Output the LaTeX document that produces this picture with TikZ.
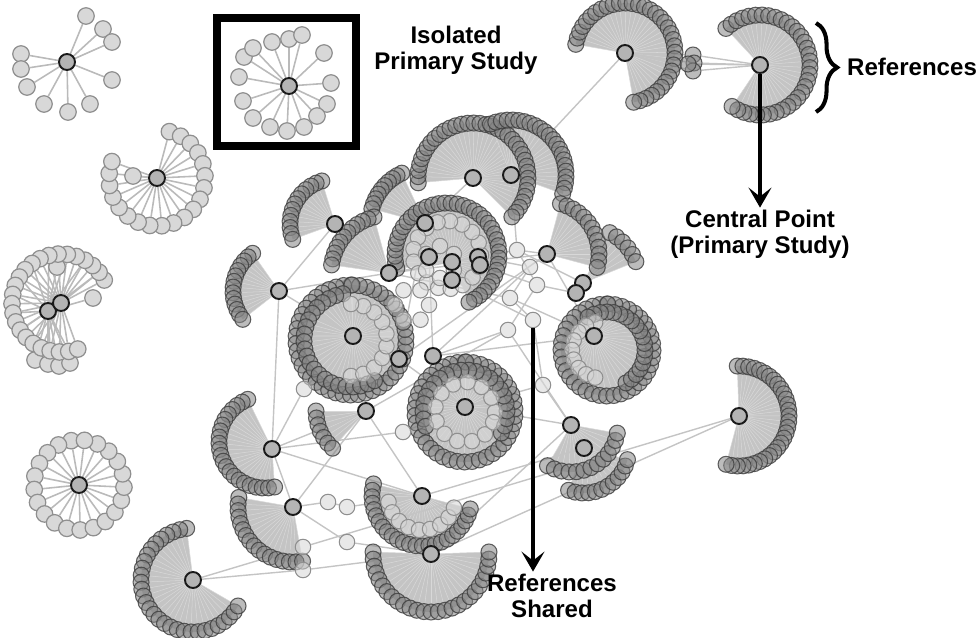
\documentclass[tikz,border=0pt]{standalone}
\usepackage{fontspec}
\setmainfont{Liberation Sans}
\usetikzlibrary{arrows.meta,positioning,calc,backgrounds,decorations.pathreplacing}
\pgfdeclarelayer{foreground}
\pgfsetlayers{background,main,foreground}
\definecolor{netInk}{HTML}{1a1a1a}
\definecolor{netRim}{HTML}{3c3c3c}
\definecolor{netDot}{HTML}{858585}
\definecolor{netHub}{HTML}{b4b4b4}
\definecolor{netPale}{HTML}{d8d8d8}
\definecolor{netEdge}{HTML}{8f8f8f}
\definecolor{netFan}{HTML}{c4c4c4}
\definecolor{netSpoke}{HTML}{bababa}
\definecolor{netLink}{HTML}{c4c4c4}
\tikzset{
  >={Stealth[length=4mm, width=4.6mm, inset=1.8mm]},
  hub/.style={circle, draw=netInk, line width=1.1pt, fill=netHub,
              minimum size=3.2mm, inner sep=0pt},
  lref/.style={circle, draw=netEdge, line width=0.7pt, fill=netPale,
              minimum size=3.3mm, inner sep=0pt},
  dref/.style={circle, draw=netRim, line width=0.6pt, fill=netDot,
              fill opacity=0.55, draw opacity=0.8, minimum size=3.2mm, inner sep=0pt},
  sref/.style={circle, draw=netEdge, line width=0.6pt, fill=netPale,
              fill opacity=0.6, minimum size=3.1mm, inner sep=0pt},
  fan/.style={fill=netFan},
  spoke/.style={draw=netSpoke, line width=0.9pt},
  fanline/.style={draw=netPale, line width=0.3pt},
  link/.style={draw=netLink, line width=0.8pt},
  isobox/.style={draw=black, line width=4.5pt, minimum width=2.78cm, minimum height=2.56cm},
  lbl/.style={font=\fontsize{13.7}{15}\selectfont\bfseries, inner sep=1pt, align=center},
  callout/.style={->, draw=black, line width=2.3pt},
  bracket/.style={decorate, decoration={brace, amplitude=12pt}, draw=black, line width=2.3pt},
}
% sparse study: hub, prefix, radius, from, to, steps
\newcommand{\starof}[6]{%
  \foreach \k in {0,...,#6}{
    \pgfmathsetmacro{\ang}{#4+(#5-#4)/#6*\k}
    \node[lref] (#2-\k) at ($(#1)+(\ang:#3)$) {};}
  \begin{scope}[on background layer]
    \foreach \k in {0,...,#6}{\draw[spoke] (#1) -- (#2-\k);}
  \end{scope}}
% dense study: hub, prefix, centre, radius, from, to, steps
\newcommand{\fanarc}[7]{%
  \foreach \k in {0,...,#7}{
    \pgfmathsetmacro{\ang}{#5+(#6-#5)/#7*\k}
    \node[dref] (#2-\k) at ($#3+(\ang:#4)$) {};}
  \begin{scope}[on background layer]
    \fill[fan] (#1.center) -- ($#3+(#5:#4)$) arc[start angle=#5, end angle=#6, radius=#4] -- cycle;
    \foreach \k in {0,...,#7}{\draw[fanline] (#1) -- (#2-\k);}
  \end{scope}}
% extra ring of references: style, prefix, centre, radius, from, to, steps
\newcommand{\ringof}[7][sref]{%
  \foreach \k in {0,...,#7}{
    \pgfmathsetmacro{\ang}{#5+(#6-#5)/#7*\k}
    \node[#1] (#2-\k) at ($#3+(\ang:#4)$) {};}}

\begin{document}
\begin{tikzpicture}[x=0.02cm,y=0.02cm]
  \useasboundingbox (0,0) rectangle (979,-638);
  % primary studies
  \begin{pgfonlayer}{foreground}
  \foreach \n/\x/\y in {p1/67/62, p2/289/86, p3/157/178, p4/48/311, p4b/61/303, p5/79/485,
      d1/625/53, d2/760/65, d3a/473/178, d3b/511/175, d4/452/262, d4a/425/223,
      d4b/429/257, d4c/452/280, d4d/478/257, d4e/480/265, d5/335/224, d6/389/273,
      d8/279/291, d9/353/336, d9b/399/359, d9c/433/356, d10/594/336, d11/465/407,
      d12/272/449, d13/366/411, d14/293/507, d15/193/580, d16/422/496, d17/431/554,
      d18a/571/425, d18b/584/448, d19/739/416, d20/547/254, d21/583/283, d21b/576/293}{
    \node[hub] (\n) at (\x,-\y) {};}
  \end{pgfonlayer}

  % isolated studies
  \foreach \x/\y [count=\k] in {86/16,103/29,112/42,21/54,21/69,27/87,44/104,68/112,90/104,112/80}{
    \node[lref] (p1-\k) at (\x,-\y) {};}
  \foreach \x/\y [count=\k] in {244/57,253/48,272/42,289/39,302/35,324/53,239/77,331/83,
      243/101,327/104,253/118,317/116,270/127,287/131,304/127}{
    \node[lref] (p2-\k) at (\x,-\y) {};}
  \foreach \x/\y [count=\k] in {93/298,57/267,35/360,48/364,59/366,70/363}{
    \node[lref] (p4x-\k) at (\x,-\y) {};}
  \node[lref] (p3x) at (133,-176) {};
  \begin{scope}[on background layer]
    \foreach \k in {1,...,10}{\draw[spoke] (p1) -- (p1-\k);}
    \foreach \k in {1,...,15}{\draw[spoke] (p2) -- (p2-\k);}
    \foreach \k in {1,...,6}{\draw[spoke] (p4) -- (p4x-\k);}
    \draw[spoke] (p3) -- (p3x);
  \end{scope}
  \node[isobox] (isofr) at (286.5,-82) {};
  \starof{p3}{p3r}{48}{75}{-200}{19}
  \starof{p4b}{p4r}{49}{28}{290}{24}
  \begin{scope}[on background layer]
    \foreach \k in {1,3,...,23}{\draw[spoke] (p4) -- (p4r-\k);}
  \end{scope}
  \starof{p5}{p5r}{45}{100}{443}{20}

  % studies sharing references
  \fanarc{d1}{d1r}{(625,-53)}{50}{170}{-80}{34}
  \fanarc{d2}{d2r}{(760,-65)}{50}{133}{-124}{34}
  \fanarc{d3a}{d3ar}{(473,-178)}{55}{185}{-45}{36}
  \fanarc{d3b}{d3br}{(511,-175)}{55}{112}{-20}{22}
  \fanarc{d4}{d4r}{(447,-255)}{52}{195}{-65}{38}
  \fanarc{d4a}{d7r}{(425,-223)}{55}{115}{165}{9}
  \fanarc{d5}{d5r}{(335,-224)}{45}{107}{200}{12}
  \fanarc{d6}{d6r}{(389,-273)}{58}{105}{172}{11}
  \fanarc{d8}{d8r}{(279,-291)}{46}{125}{218}{13}
  \fanarc{d9}{d9r}{(351,-340)}{55}{90}{449}{46}
  \ringof[dref]{d9s}{(351,-340)}{47}{100}{300}{22}
  \fanarc{d10}{d10r}{(607,-350)}{46}{90}{449}{40}
  \ringof[dref]{d10s}{(607,-350)}{38}{-60}{120}{18}
  \fanarc{d11}{d11r}{(465,-412)}{50}{90}{449}{42}
  \ringof[dref]{d11s}{(465,-412)}{42}{-30}{200}{22}
  \fanarc{d12}{d12r}{(265,-442)}{46}{112}{282}{22}
  \fanarc{d13}{d13r}{(366,-411)}{50}{180}{228}{6}
  \fanarc{d14}{d14r}{(293,-507)}{55}{170}{280}{16}
  \fanarc{d15}{d15r}{(193,-580)}{52}{97}{330}{30}
  \fanarc{d16}{d16r}{(422,-496)}{50}{166}{345}{24}
  \fanarc{d17}{d17r}{(431,-554)}{58}{178}{362}{26}
  \fanarc{d18a}{d18ar}{(571,-425)}{47}{240}{350}{12}
  \fanarc{d18b}{d18br}{(584,-448)}{45}{250}{345}{11}
  \fanarc{d19}{d19r}{(739,-416)}{50}{92}{-105}{30}
  \fanarc{d20}{d20r}{(547,-254)}{52}{75}{-15}{12}
  \fanarc{d21}{d21r}{(583,-283)}{57}{62}{22}{5}

  % shared references inside the rings
  \ringof{d4i}{(447,-255)}{34}{0}{340}{16}
  \ringof{d4j}{(440,-262)}{16}{30}{330}{5}
  \ringof{d9i}{(351,-340)}{36}{-90}{90}{9}
  \ringof{d10i}{(600,-350)}{28}{100}{260}{8}
  \ringof{d11i}{(465,-412)}{30}{0}{340}{12}
  \ringof{d16i}{(422,-496)}{34}{190}{340}{8}
  \ringof{wv}{(412,-305)}{17}{0}{300}{5}
  \foreach \n/\x/\y in {s1/517/250, s2/530/267, s3/537/285, s4/510/298, s5/533/320,
      s6/508/330, s7/543/385, s8/304/389, s9/328/502, s10/347/507, s11/347/542,
      s12/303/547, s13/303/570, s14/403/432}{
    \node[sref] (\n) at (\x,-\y) {};}
  \foreach \n/\x/\y in {k1/693/55, k2/694/63, k3/693/71, k4/688/64}{
    \node[dref] (\n) at (\x,-\y) {};}

  % links between studies and shared references
  \begin{scope}[on background layer]
    \foreach \a/\b in {d1/d3b, k1/d1, k2/d1, k3/d1, k1/d2, k2/d2, k3/d2, k4/d2,
        d8/d6, d8/d9, d5/d6, d5/d8, d6/s1, d6/s4, d6/d20, d4c/s5, d4d/s2, d4e/s3,
        d20/s1, d20/s2, d20/d10, s1/s3, s2/s4, s3/s6, s4/s5, s5/s7, s6/d18a, s7/d18a,
        s2/d9c, s4/d10, s3/d21b, s1/d21, d9c/s6, d9b/d11, d9/d9b, d9b/d20, d9c/d10,
        d11/d18a, s7/d11, d12/s8, s8/d9, d12/d13, d12/s14, s14/d11, d12/d16, d13/d16,
        d13/s6, d14/d13, d14/s9, s9/s10, s10/d16, d14/s11, s11/d17, d14/d12, d16/d18b,
        d17/d18a, d15/s12, s12/d19, d15/s13, s13/d17, d19/d17, d8/d12, d3a/d4a,
        d3b/s1, d4b/d9c, d4a/d9b}{
      \draw[link] (\a) -- (\b);}
  \end{scope}

  % annotations
  \node[lbl, anchor=north] (iso) at (456,-23.6) {Isolated\\Primary Study};
  \coordinate (brtop) at (816,-23);
  \coordinate (brbot) at (816,-112);
  \draw[bracket] (brtop) -- (brbot);
  \node[lbl, anchor=base west] (refs) at (845,-76) {References};
  \node[lbl, anchor=north] (cp) at (760,-207.6) {Central Point\\(Primary Study)};
  \draw[callout] (d2.south) -- (cp.north);
  \node[lbl, anchor=north] (rs) at (552,-571.6) {References\\Shared};
  \draw[callout] (s5.south) -- (s5.south |- rs.north);
\end{tikzpicture}
\end{document}
